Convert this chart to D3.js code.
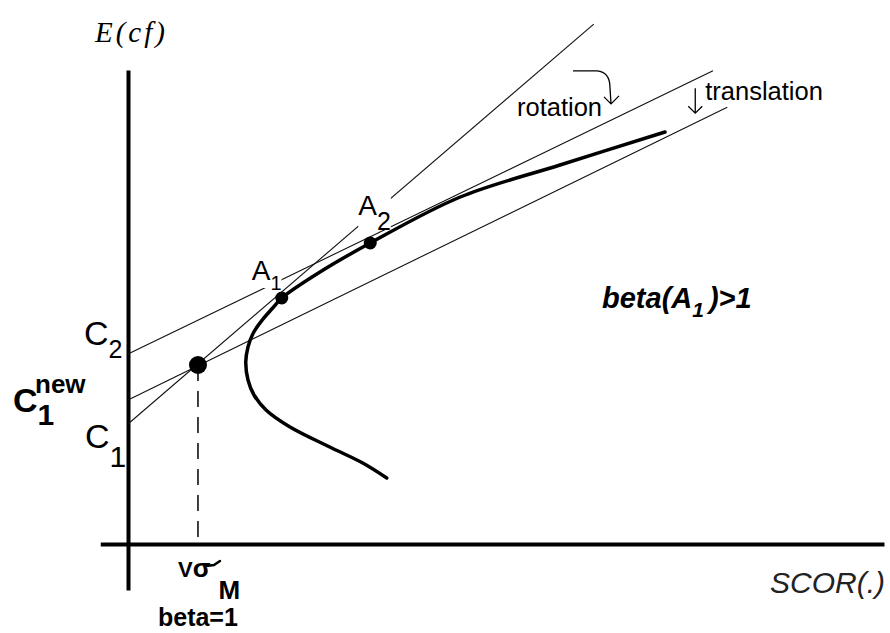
<!DOCTYPE html>
<html>
<head>
<meta charset="utf-8">
<script src="https://cdn.jsdelivr.net/npm/d3@7"></script>
<style>
  body { margin: 0; background: #fff; }
  svg { display: block; }
  text { font-family: "Liberation Sans", Arial, sans-serif; fill: #000; }
</style>
</head>
<body>
<div id="chart"></div>
<script>
'use strict';

// efficient frontier, SCOR(.) on x, E(cf) on y (arbitrary units)
const frontierScor = [34.5, 31.3, 26.9, 21.6, 18.4, 16.8, 16.0, 15.7, 16.0, 16.7, 17.9, 19.3, 20.5, 25.6, 32.3, 44.3, 57.6, 71.6];
const frontierEcf  = [13.2, 16.2, 19.4, 23.4, 26.8, 29.8, 32.8, 36.4, 39.4, 42.2, 44.8, 47.2, 49.2, 54.4, 60.2, 69.4, 75.8, 82.4];

// straight lines: intercept on the E(cf) axis, slope, SCOR where the drawn segment stops
const lineNames      = ['C2', 'C1new', 'C1'];
const lineIntercepts = [38.0, 28.8, 24.0];
const lineSlopes     = [0.726, 0.733, 1.288];
const lineEnds       = [78.0, 79.9, 62.1];

// marked points
const pointNames = ['M', 'A1', 'A2'];
const pointScor  = [9.33, 20.5, 32.3];
const pointEcf   = [35.8, 49.2, 60.2];

// extent of the two drawn axes
const xAxisSpan = [-3.7, 100.8];
const yAxisSpan = [-9.2, 94.8];

const width = 890, height = 633;

const svg = d3.select('#chart').append('svg')
    .attr('width', width)
    .attr('height', height);

const x = d3.scaleLinear().domain([0, 100]).range([128, 878]);
const y = d3.scaleLinear().domain([0, 100]).range([544, 44]);

// axes: bare domain lines, no ticks
const xAxis = d3.axisBottom(d3.scaleLinear().domain(xAxisSpan).range(xAxisSpan.map(x)))
    .ticks(0).tickSizeOuter(0);
const yAxis = d3.axisLeft(d3.scaleLinear().domain(yAxisSpan).range(yAxisSpan.map(y)))
    .ticks(0).tickSizeOuter(0);

svg.append('g')
    .attr('class', 'x-axis')
    .attr('transform', `translate(0, ${y(0)})`)
    .call(xAxis);

svg.append('g')
    .attr('class', 'y-axis')
    .attr('transform', `translate(${x(0)}, 0)`)
    .call(yAxis);

svg.selectAll('.domain')
    .attr('stroke', '#000')
    .attr('stroke-width', 4);

const line = d3.line()
    .x(d => x(d[0]))
    .y(d => y(d[1]));

const lines = lineNames.map((name, i) => ({
  name,
  pts: [[0, lineIntercepts[i]], [lineEnds[i], lineIntercepts[i] + lineSlopes[i] * lineEnds[i]]]
}));

svg.selectAll('.cml')
    .data(lines)
  .enter().append('path')
    .attr('class', 'cml')
    .attr('fill', 'none')
    .attr('stroke', '#111')
    .attr('stroke-width', 1.1)
    .attr('d', d => line(d.pts));

// dashed drop line from M to the SCOR axis
svg.append('path')
    .attr('fill', 'none')
    .attr('stroke', '#000')
    .attr('stroke-width', 1.5)
    .attr('stroke-dasharray', '16,10')
    .attr('d', line([[pointScor[0], pointEcf[0]], [pointScor[0], 0]]));

// labels of A1 and A2 sit on a white box that hides the lines behind
function subLabel(px, py, main, sub, mainSize, subSize, subDy) {
  const g = svg.append('g');
  const t = g.append('text')
      .attr('x', px)
      .attr('y', py)
      .style('font-size', mainSize + 'px');
  t.append('tspan').text(main);
  t.append('tspan')
      .attr('dy', subDy)
      .style('font-size', subSize + 'px')
      .text(sub);
  return g;
}

function knockOut(g, trim) {
  const b = g.node().getBBox();
  g.insert('rect', 'text')
      .attr('x', b.x)
      .attr('y', b.y + 2)
      .attr('width', b.width)
      .attr('height', b.height - trim)
      .attr('fill', '#fff');
}

knockOut(subLabel(x(pointScor[1]) - 30, y(pointEcf[1]) - 18, 'A', '1', 28, 20, 10), 8);
knockOut(subLabel(x(pointScor[2]) - 12, y(pointEcf[2]) - 28, 'A', '2', 28, 25, 15), 8);

// frontier
svg.append('path')
    .datum(frontierScor.map((s, i) => [s, frontierEcf[i]]))
    .attr('fill', 'none')
    .attr('stroke', '#000')
    .attr('stroke-width', 3.5)
    .attr('stroke-linejoin', 'round')
    .attr('stroke-linecap', 'round')
    .attr('d', line.curve(d3.curveCatmullRom));

svg.selectAll('.point')
    .data(pointNames)
  .enter().append('circle')
    .attr('class', 'point')
    .attr('r', (d, i) => i === 0 ? 9 : 6.5)
    .attr('cx', (d, i) => x(pointScor[i]))
    .attr('cy', (d, i) => y(pointEcf[i]))
    .attr('fill', '#000');

// intercept labels on the E(cf) axis
subLabel(x(0) - 44, y(lineIntercepts[0]) - 9, 'C', '2', 34, 25, 13);
subLabel(x(0) - 43, y(lineIntercepts[2]) + 24, 'C', '1', 34, 30, 19);

const cNew = subLabel(x(0) - 115, y(lineIntercepts[1]) + 12, 'C', '1', 34, 30, 13)
    .select('text')
    .style('font-weight', 'bold');
cNew.append('tspan')
    .attr('x', x(0) - 93)
    .attr('y', y(lineIntercepts[1]) - 7)
    .style('font-size', '26px')
    .text('new');

// axis titles
svg.append('text')
    .attr('x', x(0) - 33)
    .attr('y', y(yAxisSpan[1]) - 28)
    .style('font-family', '"Liberation Serif", "Times New Roman", serif')
    .style('font-style', 'italic')
    .style('font-size', '29px')
    .style('letter-spacing', '3px')
    .text('E(cf)');

svg.append('text')
    .attr('x', x(xAxisSpan[1]) + 1)
    .attr('y', y(0) + 49)
    .attr('text-anchor', 'end')
    .style('font-style', 'italic')
    .style('font-size', '30px')
    .style('fill', '#222')
    .text('SCOR(.)');

// V sigma'_M and beta=1 under the drop line
const vx = x(pointScor[0]) - 20, vy = y(0) + 33;
const vs = svg.append('text')
    .attr('x', vx)
    .attr('y', vy)
    .style('font-weight', 'bold')
    .style('font-size', '22px');
vs.append('tspan').text('V');
vs.append('tspan').style('font-size', '26px').text('σ');
vs.append('tspan').attr('dx', 8).attr('dy', 22).style('font-size', '26px').text('M');

// the prime drawn as a short stroke on the sigma's top bar
svg.append('path')
    .attr('fill', 'none')
    .attr('stroke', '#000')
    .attr('stroke-width', 2.5)
    .attr('stroke-linecap', 'round')
    .attr('d', `M${vx + 28},${vy - 11}L${vx + 36},${vy - 12}L${vx + 42},${vy - 16}`);

svg.append('text')
    .attr('x', x(pointScor[0]) - 40)
    .attr('y', y(0) + 82)
    .style('font-weight', 'bold')
    .style('font-size', '25px')
    .text('beta=1');

// rotation / translation notes with their arrows
const rotEnd = lines[0].pts[1], trEnd = lines[1].pts[1];
const rx = x(rotEnd[0]) - 196, ry = y(rotEnd[1]) + 45;
const tx = x(trEnd[0]) - 22, ty = y(trEnd[1]) - 7;

svg.append('text')
    .attr('x', rx)
    .attr('y', ry)
    .style('font-size', '25.5px')
    .text('rotation');

svg.append('path')
    .attr('fill', 'none')
    .attr('stroke', '#000')
    .attr('stroke-width', 1.3)
    .attr('d', `M${rx + 56},${ry - 45}H${rx + 80}Q${rx + 93},${ry - 44} ${rx + 93},${ry - 28}L${rx + 94},${ry - 12}` +
               `M${rx + 87},${ry - 19}L${rx + 94},${ry - 12}L${rx + 102},${ry - 20}`);

svg.append('text')
    .attr('x', tx)
    .attr('y', ty)
    .style('font-size', '25.5px')
    .text('translation');

svg.append('path')
    .attr('fill', 'none')
    .attr('stroke', '#000')
    .attr('stroke-width', 1.3)
    .attr('d', `M${tx - 10},${ty - 12}V${ty + 13}M${tx - 17},${ty + 6}L${tx - 10},${ty + 13}L${tx - 3},${ty + 6}`);

// beta(A1)>1 note
const note = svg.append('text')
    .attr('x', x(63.2))
    .attr('y', y(47.2))
    .style('font-weight', 'bold')
    .style('font-style', 'italic')
    .style('font-size', '29px');
note.append('tspan').text('beta(A');
note.append('tspan').attr('dy', 9).style('font-size', '21px').text('1');
note.append('tspan').attr('dx', 5).attr('dy', -9).text(')>1');
</script>
</body>
</html>
